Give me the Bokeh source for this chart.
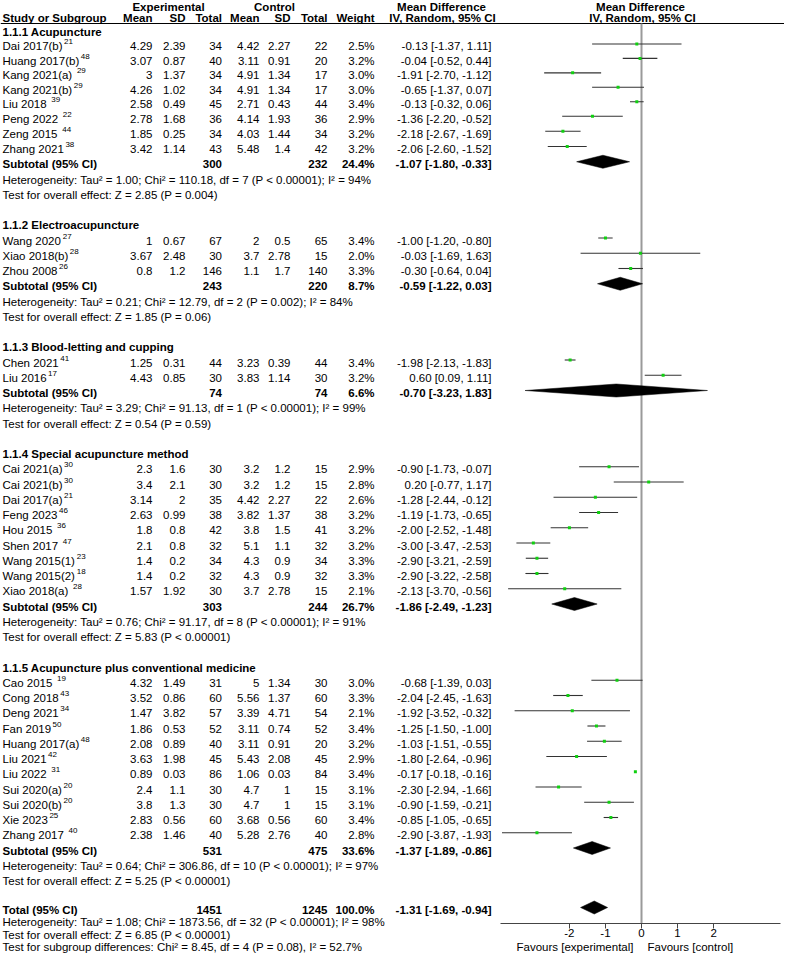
from bokeh.plotting import figure
from bokeh.models import Range1d, LinearAxis, FixedTicker, ColumnDataSource
from bokeh.embed import file_html
from bokeh.resources import INLINE
from bokeh.core.properties import value

# ---------------- data ----------------
group_names = ["1.1.1 Acupuncture", "1.1.2 Electroacupuncture", "1.1.3 Blood-letting and cupping",
               "1.1.4 Special acupuncture method", "1.1.5 Acupuncture plus conventional medicine"]

study = ["Dai 2017(b)", "Huang 2017(b)", "Kang 2021(a) ", "Kang 2021(b)", "Liu 2018 ", "Peng 2022 ",
         "Zeng 2015 ", "Zhang 2021",
         "Wang 2020", "Xiao 2018(b)", "Zhou 2008",
         "Chen 2021", "Liu 2016",
         "Cai 2021(a)", "Cai 2021(b)", "Dai 2017(a)", "Feng 2023", "Hou 2015 ", "Shen 2017 ",
         "Wang 2015(1)", "Wang 2015(2)", "Xiao 2018(a) ",
         "Cao 2015 ", "Cong 2018", "Deng 2021", "Fan 2019", "Huang 2017(a)", "Liu 2021", "Liu 2022 ",
         "Sui 2020(a)", "Sui 2020(b)", "Xie 2023", "Zhang 2017 "]
ref_no = ["21", "48", "29", "29", "39", "22", "44", "38",
          "27", "28", "26",
          "41", "17",
          "30", "30", "21", "46", "36", "47", "23", "18", "28",
          "19", "43", "34", "50", "48", "42", "31", "20", "20", "25", "40"]
group_of = [0] * 8 + [1] * 3 + [2] * 2 + [3] * 9 + [4] * 11

exp_mean = [4.29, 3.07, 3, 4.26, 2.58, 2.78, 1.85, 3.42,
            1, 3.67, 0.8,
            1.25, 4.43,
            2.3, 3.4, 3.14, 2.63, 1.8, 2.1, 1.4, 1.4, 1.57,
            4.32, 3.52, 1.47, 1.86, 2.08, 3.63, 0.89, 2.4, 3.8, 2.83, 2.38]
exp_sd = [2.39, 0.87, 1.37, 1.02, 0.49, 1.68, 0.25, 1.14,
          0.67, 2.48, 1.2,
          0.31, 0.85,
          1.6, 2.1, 2, 0.99, 0.8, 0.8, 0.2, 0.2, 1.92,
          1.49, 0.86, 3.82, 0.53, 0.89, 1.98, 0.03, 1.1, 1.3, 0.56, 1.46]
exp_n = [34, 40, 34, 34, 45, 36, 34, 43,
         67, 30, 146,
         44, 30,
         30, 30, 35, 38, 42, 32, 34, 32, 30,
         31, 60, 57, 52, 40, 45, 86, 30, 30, 60, 40]
ctl_mean = [4.42, 3.11, 4.91, 4.91, 2.71, 4.14, 4.03, 5.48,
            2, 3.7, 1.1,
            3.23, 3.83,
            3.2, 3.2, 4.42, 3.82, 3.8, 5.1, 4.3, 4.3, 3.7,
            5, 5.56, 3.39, 3.11, 3.11, 5.43, 1.06, 4.7, 4.7, 3.68, 5.28]
ctl_sd = [2.27, 0.91, 1.34, 1.34, 0.43, 1.93, 1.44, 1.4,
          0.5, 2.78, 1.7,
          0.39, 1.14,
          1.2, 1.2, 2.27, 1.37, 1.5, 1.1, 0.9, 0.9, 2.78,
          1.34, 1.37, 4.71, 0.74, 0.91, 2.08, 0.03, 1, 1, 0.56, 2.76]
ctl_n = [22, 20, 17, 17, 44, 36, 34, 42,
         65, 15, 140,
         44, 30,
         15, 15, 22, 38, 41, 32, 34, 32, 15,
         30, 60, 54, 52, 20, 45, 84, 15, 15, 60, 40]
weight = [2.5, 3.2, 3.0, 3.0, 3.4, 2.9, 3.2, 3.2,
          3.4, 2.0, 3.3,
          3.4, 3.2,
          2.9, 2.8, 2.6, 3.2, 3.2, 3.2, 3.3, 3.3, 2.1,
          3.0, 3.3, 2.1, 3.4, 3.2, 2.9, 3.4, 3.1, 3.1, 3.4, 2.8]
md = [-0.13, -0.04, -1.91, -0.65, -0.13, -1.36, -2.18, -2.06,
      -1.00, -0.03, -0.30,
      -1.98, 0.60,
      -0.90, 0.20, -1.28, -1.19, -2.00, -3.00, -2.90, -2.90, -2.13,
      -0.68, -2.04, -1.92, -1.25, -1.03, -1.80, -0.17, -2.30, -0.90, -0.85, -2.90]
ci_lo = [-1.37, -0.52, -2.70, -1.37, -0.32, -2.20, -2.67, -2.60,
         -1.20, -1.69, -0.64,
         -2.13, 0.09,
         -1.73, -0.77, -2.44, -1.73, -2.52, -3.47, -3.21, -3.22, -3.70,
         -1.39, -2.45, -3.52, -1.50, -1.51, -2.64, -0.18, -2.94, -1.59, -1.05, -3.87]
ci_hi = [1.11, 0.44, -1.12, 0.07, 0.06, -0.52, -1.69, -1.52,
         -0.80, 1.63, 0.04,
         -1.83, 1.11,
         -0.07, 1.17, -0.12, -0.65, -1.48, -2.53, -2.59, -2.58, -0.56,
         0.03, -1.63, -0.32, -1.00, -0.55, -0.96, -0.16, -1.66, -0.21, -0.65, -1.93]

sub_exp_n = [300, 243, 74, 303, 531]
sub_ctl_n = [232, 220, 74, 244, 475]
sub_weight = [24.4, 8.7, 6.6, 26.7, 33.6]
sub_md = [-1.07, -0.59, -0.70, -1.86, -1.37]
sub_lo = [-1.80, -1.22, -3.23, -2.49, -1.89]
sub_hi = [-0.33, 0.03, 1.83, -1.23, -0.86]
sub_het = ["Heterogeneity: Tau\u00b2 = 1.00; Chi\u00b2 = 110.18, df = 7 (P < 0.00001); I\u00b2 = 94%",
           "Heterogeneity: Tau\u00b2 = 0.21; Chi\u00b2 = 12.79, df = 2 (P = 0.002); I\u00b2 = 84%",
           "Heterogeneity: Tau\u00b2 = 3.29; Chi\u00b2 = 91.13, df = 1 (P < 0.00001); I\u00b2 = 99%",
           "Heterogeneity: Tau\u00b2 = 0.76; Chi\u00b2 = 91.17, df = 8 (P < 0.00001); I\u00b2 = 91%",
           "Heterogeneity: Tau\u00b2 = 0.64; Chi\u00b2 = 306.86, df = 10 (P < 0.00001); I\u00b2 = 97%"]
sub_test = ["Test for overall effect: Z = 2.85 (P = 0.004)",
            "Test for overall effect: Z = 1.85 (P = 0.06)",
            "Test for overall effect: Z = 0.54 (P = 0.59)",
            "Test for overall effect: Z = 5.83 (P < 0.00001)",
            "Test for overall effect: Z = 5.25 (P < 0.00001)"]

total_exp_n = 1451
total_ctl_n = 1245
total_weight = 100.0
total_md = -1.31
total_lo = -1.69
total_hi = -0.94
footer_lines = ["Heterogeneity: Tau\u00b2 = 1.08; Chi\u00b2 = 1873.56, df = 32 (P < 0.00001); I\u00b2 = 98%",
                "Test for overall effect: Z = 6.85 (P < 0.00001)",
                "Test for subgroup differences: Chi\u00b2 = 8.45, df = 4 (P = 0.08), I\u00b2 = 52.7%"]

axis_ticks = [-2, -1, 0, 1, 2]
axis_tick_labels = ["-2", "-1", "0", "1", "2"]
favours_left = "Favours [experimental]"
favours_right = "Favours [control]"

# ---------------- layout helpers ----------------
FONT = "Liberation Sans"
FS = "11.5px"
ZERO_PX = 649.0
UNIT_PX = 36.05


def dx(px):
    return (px - ZERO_PX) / UNIT_PX


def row_y(k):
    # vertical position (page px) of table line k; first lines eased down under the header
    return 34.5 + (k - 1) * 15.25 + max(0.0, 5.0 - (k - 1) * 0.8)


AW = {' ': 278, '(': 333, ')': 333, 'A': 667, 'B': 667, 'C': 722, 'D': 722, 'E': 667, 'F': 611,
      'G': 778, 'H': 722, 'I': 278, 'J': 500, 'K': 667, 'L': 556, 'M': 833, 'N': 722, 'O': 778,
      'P': 667, 'Q': 778, 'R': 722, 'S': 667, 'T': 611, 'U': 722, 'V': 667, 'W': 944, 'X': 667,
      'Y': 667, 'Z': 611, 'a': 556, 'b': 556, 'c': 500, 'd': 556, 'e': 556, 'f': 278, 'g': 556,
      'h': 556, 'i': 222, 'j': 222, 'k': 500, 'l': 222, 'm': 833, 'n': 556, 'o': 556, 'p': 556,
      'q': 556, 'r': 333, 's': 500, 't': 278, 'u': 556, 'v': 500, 'w': 722, 'x': 500, 'y': 500,
      'z': 500}


def text_w(s, size=11.5):
    return sum(AW.get(c, 556) for c in s) * size / 1000.0


texts = {}


def add(px, y, s, align="left", bold=False, size=FS):
    key = (align, "bold" if bold else "normal", size)
    d = texts.setdefault(key, {"x": [], "y": [], "t": []})
    d["x"].append(dx(px))
    d["y"].append(y)
    d["t"].append(s)


def fnum(v):
    return f"{v:g}"


def fci(m, lo, hi):
    return f"{m:.2f} [{lo:.2f}, {hi:.2f}]"


COL_EM, COL_ESD, COL_EN = 160, 193, 229.5
COL_CM, COL_CSD, COL_CN = 267, 298, 335
COL_W, COL_MD = 382, 499
LEFT = 10
OFF = 2.5  # marks sit slightly above text centre
H1, H2, RULE = 14, 25.5, 31

# headers
add(176, H1, "Experimental", "center", True)
add(282, H1, "Control", "center", True)
add(449, H1, "Mean Difference", "center", True)
add(648, H1, "Mean Difference", "center", True)
add(LEFT, H2, "Study or Subgroup", "left", True)
for px, s in [(COL_EM, "Mean"), (COL_ESD, "SD"), (COL_EN, "Total"), (COL_CM, "Mean"),
              (COL_CSD, "SD"), (COL_CN, "Total"), (COL_W, "Weight")]:
    add(px, H2, s, "right", True)
add(450, H2, "IV, Random, 95% CI", "center", True)
add(650, H2, "IV, Random, 95% CI", "center", True)

study_y = []
sub_y = []
k = 1
for g, gname in enumerate(group_names):
    add(LEFT, row_y(k), gname, "left", True)
    k += 1
    for i in range(len(study)):
        if group_of[i] != g:
            continue
        y = row_y(k)
        study_y.append(y)
        add(LEFT, y, study[i])
        add(LEFT + text_w(study[i]) + 1.5, y - 4.5, ref_no[i], "left", False, "8px")
        add(COL_EM, y, fnum(exp_mean[i]), "right")
        add(COL_ESD, y, fnum(exp_sd[i]), "right")
        add(COL_EN, y, str(exp_n[i]), "right")
        add(COL_CM, y, fnum(ctl_mean[i]), "right")
        add(COL_CSD, y, fnum(ctl_sd[i]), "right")
        add(COL_CN, y, str(ctl_n[i]), "right")
        add(COL_W, y, f"{weight[i]:.1f}%", "right")
        add(COL_MD, y, fci(md[i], ci_lo[i], ci_hi[i]), "right")
        k += 1
    y = row_y(k)
    sub_y.append(y)
    add(LEFT, y, "Subtotal (95% CI)", "left", True)
    add(COL_EN, y, str(sub_exp_n[g]), "right", True)
    add(COL_CN, y, str(sub_ctl_n[g]), "right", True)
    add(COL_W, y, f"{sub_weight[g]:.1f}%", "right", True)
    add(COL_MD, y, fci(sub_md[g], sub_lo[g], sub_hi[g]), "right", True)
    k += 1
    add(LEFT, row_y(k), sub_het[g])
    k += 1
    add(LEFT, row_y(k), sub_test[g])
    k += 2

ty = 917.5
add(LEFT, ty, "Total (95% CI)", "left", True)
add(COL_EN, ty, str(total_exp_n), "right", True)
add(COL_CN, ty, str(total_ctl_n), "right", True)
add(COL_W, ty, f"{total_weight:.1f}%", "right", True)
add(COL_MD, ty, fci(total_md, total_lo, total_hi), "right", True)
FOOT = [929.5, 942, 954.5]
for fy, line in zip(FOOT, footer_lines):
    add(LEFT, fy, line)

AXIS_Y = 930.5
add(641, FOOT[2], favours_left, "right")
add(655, FOOT[2], favours_right, "left")

# ---------------- figure (1 y unit = 1 page pixel) ----------------
p = figure(width=784, height=953, x_range=Range1d(dx(8), dx(792)), y_range=Range1d(961, 8),
           output_backend="svg", toolbar_location=None, x_axis_type=None, y_axis_type=None,
           min_border=0, outline_line_color=None)
p.background_fill_color = "white"

# header rule
p.segment(x0=[dx(8)], x1=[dx(792)], y0=[RULE], y1=[RULE], line_color="black", line_width=1)
# line of no effect
p.segment(x0=[0], x1=[0], y0=[RULE], y1=[AXIS_Y], line_color="#9a9a9a", line_width=2)

# study CIs and point estimates
ym = [y - OFF for y in study_y]
p.segment(x0=ci_lo, x1=ci_hi, y0=ym, y1=ym, line_color="#333333", line_width=1.1)
p.scatter(x=md, y=ym, marker="square", size=3, fill_color="#10d010", line_color=None)

# diamonds
dxs, dys = [], []
for m, lo, hi, y in zip(sub_md + [total_md], sub_lo + [total_lo], sub_hi + [total_hi], sub_y + [ty]):
    yc = y - OFF
    dxs.append([lo, m, hi, m])
    dys.append([yc, yc - 6.5, yc, yc + 6.5])
p.patches(xs=dxs, ys=dys, fill_color="black", line_color="black", line_width=0.5)

# texts
for (align, style, size), d in texts.items():
    p.text(x="x", y="y", text="t", source=ColumnDataSource(d), text_align=align,
           text_baseline="middle", text_font=value(FONT), text_font_size=size,
           text_font_style=style, text_color="black")

# axis
ax = LinearAxis(ticker=FixedTicker(ticks=axis_ticks), fixed_location=AXIS_Y,
                bounds=(dx(508), dx(788)))
ax.major_label_overrides = {t: lab for t, lab in zip(axis_ticks, axis_tick_labels)}
ax.minor_tick_line_color = None
ax.major_tick_in = 0
ax.major_tick_out = 5
ax.axis_line_color = "#444444"
ax.major_tick_line_color = "#444444"
ax.major_label_text_font = FONT
ax.major_label_text_font_size = FS
ax.major_label_text_color = "black"
ax.major_label_standoff = 1
p.add_layout(ax, "below")

open("out.html", "w").write(file_html(p, INLINE))
